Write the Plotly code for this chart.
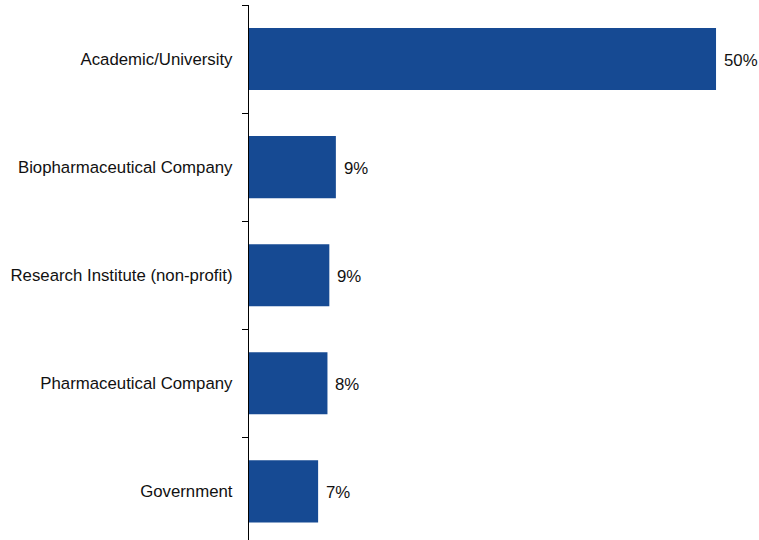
import plotly.graph_objects as go

# Share of respondents by organisation type
categories = [
    "Academic/University",
    "Biopharmaceutical Company",
    "Research Institute (non-profit)",
    "Pharmaceutical Company",
    "Government",
]
shares = [50.0, 9.3, 8.6, 8.4, 7.4]

BAR_COLOR = "#164A93"
FONT = "Liberation Sans, Arial, sans-serif"
FONT_SIZE = 16.8

fig = go.Figure(
    go.Bar(
        x=shares,
        y=categories,
        orientation="h",
        marker=dict(color=BAR_COLOR, line=dict(width=0)),
        width=0.575,
        hoverinfo="skip",
    )
)

# Value labels just past the end of each bar
for cat, val in zip(categories, shares):
    fig.add_annotation(
        x=val,
        y=cat,
        text=f"{val:.0f}%",
        showarrow=False,
        xanchor="left",
        yanchor="middle",
        xshift=6,
        yshift=-1,
        font=dict(family=FONT, size=FONT_SIZE, color="#111111"),
    )

fig.update_layout(
    width=759,
    height=540,
    margin=dict(l=249, r=0, t=5, b=0),
    paper_bgcolor="white",
    plot_bgcolor="white",
    showlegend=False,
    font=dict(family=FONT, size=FONT_SIZE, color="#111111"),
    xaxis=dict(
        range=[0, 54.6],
        visible=False,
        fixedrange=True,
    ),
    yaxis=dict(
        type="category",
        range=[4.45, -0.5],
        showline=True,
        linecolor="black",
        linewidth=1.3,
        ticks="outside",
        tickson="boundaries",
        ticklen=6,
        tickcolor="black",
        tickwidth=1,
        showgrid=False,
        ticklabelstandoff=12,
        tickfont=dict(family=FONT, size=FONT_SIZE, color="#111111"),
        fixedrange=True,
    ),
)

fig.write_html("out.html")
